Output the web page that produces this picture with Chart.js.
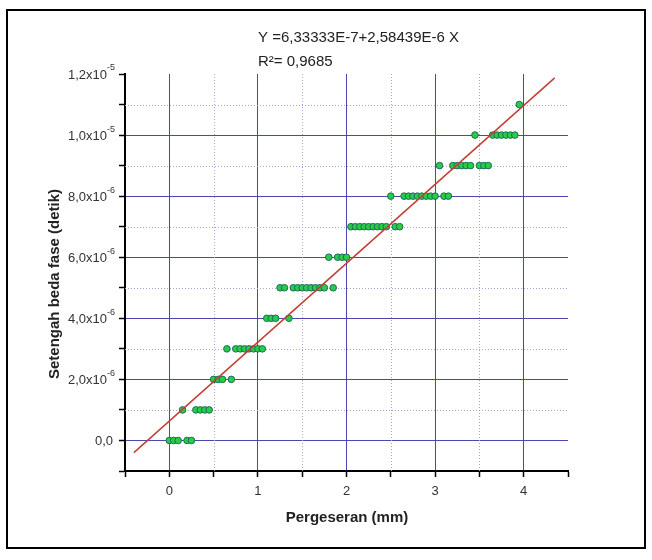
<!DOCTYPE html>
<html>
<head>
<meta charset="utf-8">
<title>Setengah beda fase vs Pergeseran</title>
<script src="https://cdn.jsdelivr.net/npm/chart.js@4.4.0/dist/chart.umd.min.js"></script>
<style>
  body { margin: 0; background: #fff; }
  canvas { display: block; }
</style>
</head>
<body>
<canvas id="grafik" width="652" height="560"></canvas>
<script>
// data (x dalam mm, y dalam detik)
const pergeseran = [
  0, 0.05, 0.1, 0.15, 0.2, 0.25, 0.3, 0.35, 0.4, 0.45,
  0.5, 0.55, 0.6, 0.65, 0.7, 0.75, 0.8, 0.85, 0.9, 0.95,
  1.0, 1.05, 1.1, 1.15, 1.2, 1.25, 1.3, 1.35, 1.4, 1.45,
  1.5, 1.55, 1.6, 1.65, 1.7, 1.75, 1.8, 1.85, 1.9, 1.95,
  2.0, 2.05, 2.1, 2.15, 2.2, 2.25, 2.3, 2.35, 2.4, 2.45,
  2.5, 2.55, 2.6, 2.65, 2.7, 2.75, 2.8, 2.85, 2.9, 2.95,
  3.0, 3.05, 3.1, 3.15, 3.2, 3.25, 3.3, 3.35, 3.4, 3.45,
  3.5, 3.55, 3.6, 3.65, 3.7, 3.75, 3.8, 3.85, 3.9, 3.95
];
const setengahBedaFase = [
  0, 0, 0, 1e-6, 0, 0, 1e-6, 1e-6, 1e-6, 1e-6,
  2e-6, 2e-6, 2e-6, 3e-6, 2e-6, 3e-6, 3e-6, 3e-6, 3e-6, 3e-6,
  3e-6, 3e-6, 4e-6, 4e-6, 4e-6, 5e-6, 5e-6, 4e-6, 5e-6, 5e-6,
  5e-6, 5e-6, 5e-6, 5e-6, 5e-6, 5e-6, 6e-6, 5e-6, 6e-6, 6e-6,
  6e-6, 7e-6, 7e-6, 7e-6, 7e-6, 7e-6, 7e-6, 7e-6, 7e-6, 7e-6,
  8e-6, 7e-6, 7e-6, 8e-6, 8e-6, 8e-6, 8e-6, 8e-6, 8e-6, 8e-6,
  8e-6, 9e-6, 8e-6, 8e-6, 9e-6, 9e-6, 9e-6, 9e-6, 9e-6, 1e-5,
  9e-6, 9e-6, 9e-6, 1e-5, 1e-5, 1e-5, 1e-5, 1e-5, 1e-5, 1.1e-5
];

// garis regresi linier (ujung-ujungnya)
const garisX = [-0.4, 4.35];
const garisY = [-0.40e-6, 11.875e-6];

// tick sumbu
const xTicks = [-0.5, 0, 0.5, 1, 1.5, 2, 2.5, 3, 3.5, 4, 4.5];
const xTickLabels = ['', '0', '', '1', '', '2', '', '3', '', '4', ''];
const yTicks = [-1e-6, 0, 1e-6, 2e-6, 3e-6, 4e-6, 5e-6, 6e-6, 7e-6, 8e-6, 9e-6, 1e-5, 1.1e-5, 1.2e-5];
const yTickLabels = ['', '0,0', '', '2,0x10', '', '4,0x10', '', '6,0x10', '', '8,0x10', '', '1,0x10', '', '1,2x10'];
const yTickPangkat = ['', '', '', '-6', '', '-6', '', '-6', '', '-6', '', '-5', '', '-5'];

const persamaan = 'Y =6,33333E-7+2,58439E-6 X';
const nilaiR2 = 'R²= 0,9685';

const FONT = '"Liberation Sans", Arial, sans-serif';
const GRID_MAYOR = 'rgb(72, 72, 175)';
const GRID_MINOR = 'rgb(165, 165, 210)';

// grid titik-titik untuk tick minor, label y dengan pangkat, bingkai dan teks
const pluginTambahan = {
    id: 'tambahan',
    beforeDatasetsDraw(chart) {
        const { ctx, chartArea, scales } = chart;
        ctx.save();
        ctx.strokeStyle = GRID_MINOR;
        ctx.lineWidth = 1;
        ctx.setLineDash([1, 2]);
        xTicks.forEach((v, i) => {
            if (xTickLabels[i] !== '' || i === 0 || i === xTicks.length - 1) return;
            const px = Math.round(scales.x.getPixelForValue(v)) + 0.5;
            ctx.beginPath();
            ctx.moveTo(px, chartArea.top);
            ctx.lineTo(px, chartArea.bottom);
            ctx.stroke();
        });
        yTicks.forEach((v, i) => {
            if (yTickLabels[i] !== '' || i === 0) return;
            const py = Math.round(scales.y.getPixelForValue(v)) + 0.5;
            ctx.beginPath();
            ctx.moveTo(chartArea.left, py);
            ctx.lineTo(chartArea.right, py);
            ctx.stroke();
        });
        ctx.restore();
    },
    afterDraw(chart) {
        const { ctx, chartArea, scales } = chart;
        ctx.save();
        // bingkai luar
        ctx.strokeStyle = '#000';
        ctx.lineWidth = 2;
        ctx.strokeRect(7, 10, 638, 538);

        // label sumbu y (dengan pangkat)
        ctx.fillStyle = '#333';
        ctx.textAlign = 'right';
        ctx.textBaseline = 'middle';
        const kanan = chartArea.left - 10;
        yTicks.forEach((v, i) => {
            if (yTickLabels[i] === '') return;
            const py = scales.y.getPixelForValue(v);
            let x = kanan;
            if (yTickPangkat[i] !== '') {
                ctx.font = '9px ' + FONT;
                ctx.fillText(yTickPangkat[i], x, py - 6);
                x -= ctx.measureText(yTickPangkat[i]).width;
            } else {
                x -= 2;
            }
            ctx.font = '13px ' + FONT;
            ctx.fillText(yTickLabels[i], x, py + 1);
        });

        // persamaan regresi
        ctx.fillStyle = '#222';
        ctx.font = '15px ' + FONT;
        ctx.textAlign = 'left';
        ctx.fillText(persamaan, 258, 38);
        ctx.fillText(nilaiR2, 258, 62);

        // judul sumbu x
        ctx.font = 'bold 15px ' + FONT;
        ctx.textAlign = 'center';
        ctx.fillText('Pergeseran (mm)', (chartArea.left + chartArea.right) / 2 + 0.5, 518);

        // judul sumbu y
        ctx.translate(55, 284);
        ctx.rotate(-Math.PI / 2);
        ctx.fillText('Setengah beda fase (detik)', 0, 0);
        ctx.restore();
    }
};

new Chart(document.getElementById('grafik').getContext('2d'), {
    type: 'scatter',
    data: {
        datasets: [
            {
                // garis regresi di atas titik
                label: 'Regresi',
                data: garisX.map((x, i) => ({ x: x, y: garisY[i] })),
                showLine: true,
                borderColor: 'rgb(196, 62, 52)',
                borderWidth: 1.5,
                pointRadius: 0,
                order: 0
            },
            {
                label: 'Data',
                data: pergeseran.map((x, i) => ({ x: x, y: setengahBedaFase[i] })),
                backgroundColor: 'rgb(40, 205, 70)',
                borderColor: 'rgb(30, 105, 95)',
                borderWidth: 1,
                pointRadius: 3.3,
                order: 1
            }
        ]
    },
    options: {
        responsive: false,
        animation: false,
        layout: { padding: { left: 0, top: 74, right: 84, bottom: 0 } },
        plugins: {
            legend: { display: false },
            tooltip: { enabled: false }
        },
        scales: {
            x: {
                type: 'linear',
                min: -0.5,
                max: 4.5,
                afterBuildTicks: (scale) => { scale.ticks = xTicks.map(v => ({ value: v })); },
                afterFit: (scale) => {
                    scale.height = 89;
                    scale.paddingLeft = 0; scale.paddingRight = 0;
                },
                ticks: {
                    autoSkip: false,
                    maxRotation: 0,
                    padding: 7,
                    color: '#333',
                    font: { family: FONT, size: 13 },
                    callback: (v, i) => xTickLabels[i]
                },
                grid: {
                    color: (c) => (xTickLabels[c.index] !== '') ? GRID_MAYOR : 'rgba(0,0,0,0)',
                    lineWidth: 1,
                    tickColor: '#000',
                    tickLength: 6,
                    tickWidth: 1.5
                },
                border: { color: '#000', width: 2 }
            },
            y: {
                type: 'linear',
                min: -1e-6,
                max: 1.2e-5,
                afterBuildTicks: (scale) => { scale.ticks = yTicks.map(v => ({ value: v })); },
                afterFit: (scale) => {
                    scale.width = 125;
                    scale.paddingTop = 0; scale.paddingBottom = 0;
                },
                ticks: {
                    display: false
                },
                grid: {
                    color: (c) => {
                        const i = c.index;
                        return (yTickLabels[i] !== '' && i !== yTicks.length - 1) ? GRID_MAYOR : 'rgba(0,0,0,0)';
                    },
                    lineWidth: 1,
                    tickColor: '#000',
                    tickLength: 6,
                    tickWidth: 1.5
                },
                border: { color: '#000', width: 2 }
            }
        }
    },
    plugins: [pluginTambahan]
});
</script>
</body>
</html>
